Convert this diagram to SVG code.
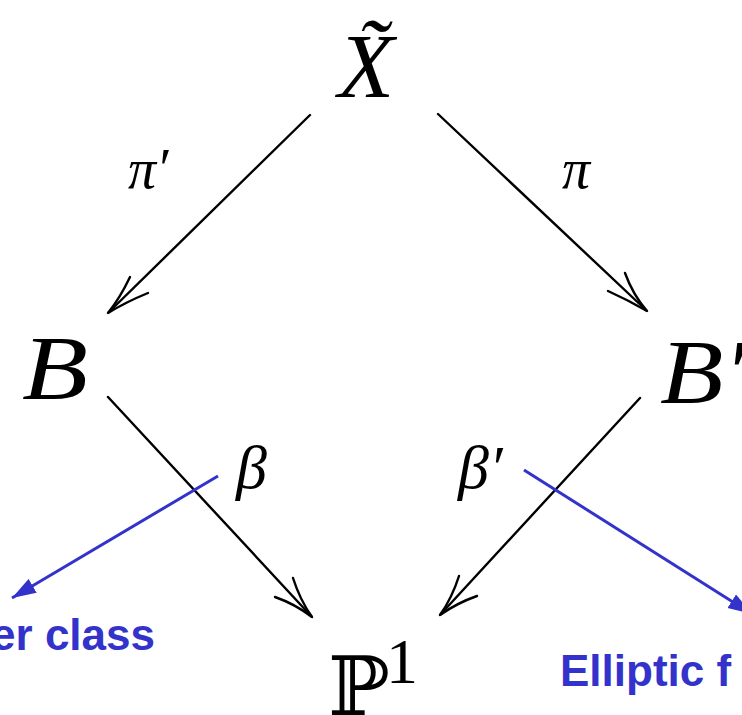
<svg xmlns="http://www.w3.org/2000/svg" width="742" height="715" viewBox="0 0 742 715">
<style>
.m{font-family:"Liberation Serif","Times New Roman",serif;font-style:italic;fill:#000}
.u{font-family:"Liberation Serif","Times New Roman",serif;fill:#000}
.bb{font-family:"DejaVu Serif","DejaVu Sans",serif;fill:#000}
.lbl{font-family:"Liberation Sans",Arial,sans-serif;font-weight:bold;fill:#3333CC;font-size:44px}
.ln{stroke:#000;stroke-width:2.4;fill:none;stroke-linecap:round}
.bl{stroke:#3333CC;stroke-width:3;fill:none}
</style>
<defs>
<marker id="ah" markerUnits="userSpaceOnUse" markerWidth="26" markerHeight="18" refX="24" refY="8" orient="auto">
<path d="M0,0 L24,8 L0,16 Z" fill="#3333CC"/>
</marker>
</defs>
<rect width="742" height="715" fill="#fff"/>
<g id="Xt">
<text class="m" x="338" y="97" font-size="92">X̃</text>
</g>
<g id="B">
<text class="m" x="22" y="399" font-size="92" textLength="66" lengthAdjust="spacingAndGlyphs">B</text>
</g>
<g id="Bp">
<text class="m" x="660" y="403" font-size="92" textLength="86" lengthAdjust="spacingAndGlyphs">B′</text>
</g>
<g id="P1">
<text class="bb" x="328" y="715" font-size="82">ℙ</text>
<text class="u" x="386" y="683" font-size="64">1</text>
</g>
<g id="connectors">
<path class="ln" d="M310,115 L108,313"/>
<path class="ln" d="M130,277 Q120,298 108,313 Q126,302 148,293"/>
<path class="ln" d="M438,114 L647,311"/>
<path class="ln" d="M625,273 Q633,295 647,311 Q628,300 608,291"/>
<path class="ln" d="M108,397 L312,617"/>
<path class="ln" d="M293,578 Q300,600 312,617 Q295,604 275,597"/>
<path class="ln" d="M640,398 L440,615"/>
<path class="ln" d="M459,576 Q452,598 440,615 Q457,603 477,596"/>
<path class="bl" d="M218,476 L12,598" marker-end="url(#ah)"/>
<path class="bl" d="M524,470 L752,614" marker-end="url(#ah)"/>
</g>
<g id="labels">
<text class="m" x="128" y="188" font-size="56">π′</text>
<text class="m" x="562" y="188" font-size="56">π</text>
<text class="m" x="236" y="488" font-size="62">β</text>
<text class="m" x="458" y="488" font-size="62">β′</text>
<text class="lbl" x="155" y="650" text-anchor="end">er class</text>
<text class="lbl" x="560" y="686">Elliptic f</text>
</g>
</svg>
